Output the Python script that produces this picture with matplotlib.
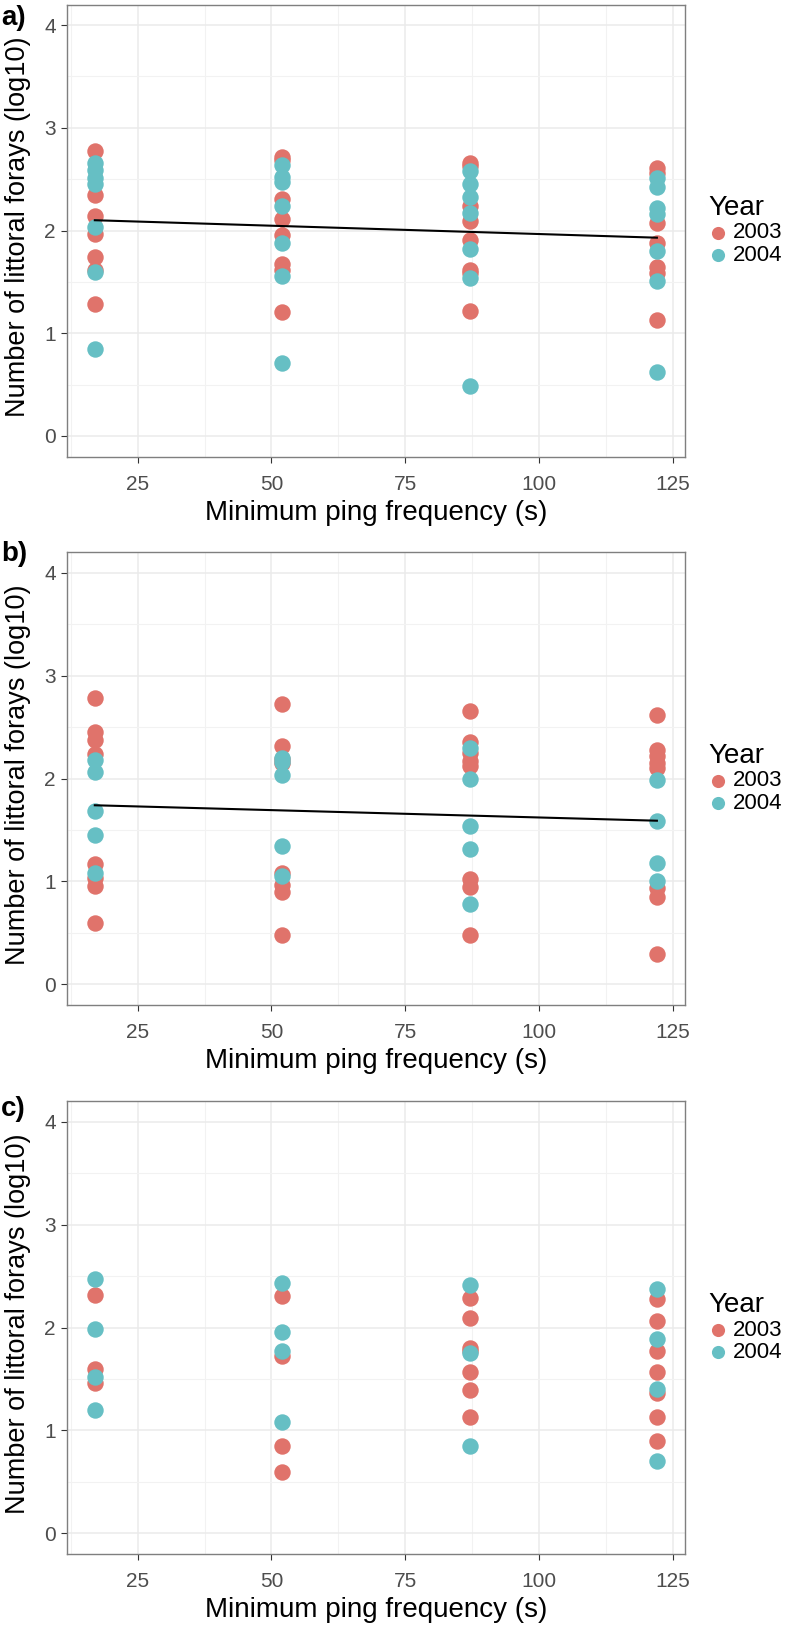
import numpy as np
import matplotlib.pyplot as plt

plt.rcParams['font.family'] = ['Liberation Sans', 'DejaVu Sans']

ping = [17, 52, 87, 122]
years = ['2003', '2004']
col03 = '#E0736B'
col04 = '#66BFC4'

# panel a (values per ping group)
a_2003 = [[2.77, 2.35, 2.14, 1.97, 1.74, 1.62, 1.28],
          [2.72, 2.69, 2.31, 2.11, 1.96, 1.67, 1.62, 1.21],
          [2.66, 2.63, 2.24, 2.09, 1.91, 1.62, 1.59, 1.22],
          [2.61, 2.56, 2.07, 1.88, 1.64, 1.59, 1.13]]
a_2004 = [[2.66, 2.59, 2.51, 2.45, 2.03, 1.60, 0.85],
          [2.64, 2.52, 2.47, 2.24, 1.88, 1.56, 0.71],
          [2.58, 2.45, 2.33, 2.17, 1.82, 1.54, 0.49],
          [2.51, 2.42, 2.22, 2.16, 1.80, 1.51, 0.62]]
a_fit = [2.10, 1.93]

# panel b
b_2003 = [[2.78, 2.45, 2.37, 2.24, 1.17, 1.03, 0.96, 0.60],
          [2.72, 2.32, 2.19, 2.15, 1.08, 0.97, 0.90, 0.48],
          [2.66, 2.35, 2.25, 2.17, 2.12, 1.02, 0.95, 0.48],
          [2.62, 2.28, 2.22, 2.15, 2.10, 0.94, 0.85, 0.30]]
b_2004 = [[2.18, 2.06, 1.68, 1.45, 1.08],
          [2.20, 2.16, 2.03, 1.34, 1.05],
          [2.30, 2.00, 1.54, 1.32, 0.78],
          [1.99, 1.59, 1.18, 1.00]]
b_fit = [1.74, 1.59]

# panel c (no fitted line)
c_2003 = [[2.32, 1.60, 1.46],
          [2.31, 1.72, 0.85, 0.60],
          [2.29, 2.09, 1.80, 1.77, 1.57, 1.39, 1.13],
          [2.28, 2.06, 1.77, 1.57, 1.36, 1.13, 0.90]]
c_2004 = [[2.47, 1.99, 1.52, 1.20],
          [2.43, 1.96, 1.77, 1.08],
          [2.41, 1.75, 0.85],
          [2.37, 1.89, 1.40, 0.70]]

tags = ['a)', 'b)', 'c)']
xlab = 'Minimum ping frequency (s)'
ylab = 'Number of littoral forays (log10)'

W, H = 789, 1627
fig = plt.figure(figsize=(W / 100, H / 100), dpi=100)

# panel boxes in pixels: left, right, top, bottom
boxes = [(66.7, 685, 4.5, 456.5), (66.7, 685, 552, 1005), (66.7, 685, 1101, 1554)]
tag_y = [5, 541, 1096]


def flat(groups):
    x = np.repeat(ping, [len(g) for g in groups])
    y = np.concatenate([np.array(g, dtype=float) for g in groups])
    return x, y


def draw_panel(ax, y03, y04, fit):
    ax.set_xlim(11.75, 127.25)
    ax.set_ylim(-0.2, 4.2)
    ax.set_xticks([25, 50, 75, 100, 125])
    ax.set_yticks([0, 1, 2, 3, 4])
    ax.set_xticks([12.5, 37.5, 62.5, 87.5, 112.5], minor=True)
    ax.set_yticks([0.5, 1.5, 2.5, 3.5], minor=True)
    ax.grid(True, which='major', color='#EBEBEB', lw=1.1)
    ax.grid(True, which='minor', color='#F2F2F2', lw=0.8)
    ax.set_axisbelow(True)
    ax.tick_params(which='minor', length=0)
    ax.tick_params(which='major', length=4.3, width=0.8, color='#333333',
                   labelsize=15, labelcolor='#4D4D4D')
    ax.tick_params(axis='x', pad=9)
    ax.tick_params(axis='y', pad=3.5)
    for s in ax.spines.values():
        s.set_color('#7F7F7F')
        s.set_linewidth(1.0)
    x, y = flat(y03)
    ax.scatter(x, y, s=140, color=col03, lw=0, zorder=3, label=years[0])
    x, y = flat(y04)
    ax.scatter(x, y, s=140, color=col04, lw=0, zorder=3, label=years[1])
    if fit is not None:
        ax.plot([ping[0], ping[-1]], fit, color='black', lw=1.5, zorder=4)
    leg = ax.legend(loc='center left', bbox_to_anchor=(1.038, 0.5), frameon=False,
                    title='Year', fontsize=16, title_fontsize=20,
                    handletextpad=0.2, labelspacing=0.05, borderpad=0,
                    borderaxespad=0, markerscale=0.8, handlelength=0.9)
    leg._legend_box.align = 'left'
    ax.set_xlabel(xlab, fontsize=20, labelpad=4)


data = [(a_2003, a_2004, a_fit), (b_2003, b_2004, b_fit), (c_2003, c_2004, None)]
for i, (l, r, t, b) in enumerate(boxes):
    ax = fig.add_axes([l / W, 1 - b / H, (r - l) / W, (b - t) / H])
    draw_panel(ax, *data[i])
    fig.text(1 / W, 1 - tag_y[i] / H, tags[i], fontsize=20, fontweight='bold',
             ha='left', va='top')
    fig.text(18.5 / W, 1 - ((t + b) / 2 - 4) / H, ylab, fontsize=19.5,
             rotation=90, ha='center', va='center')

fig.savefig('out.png', dpi=100)
